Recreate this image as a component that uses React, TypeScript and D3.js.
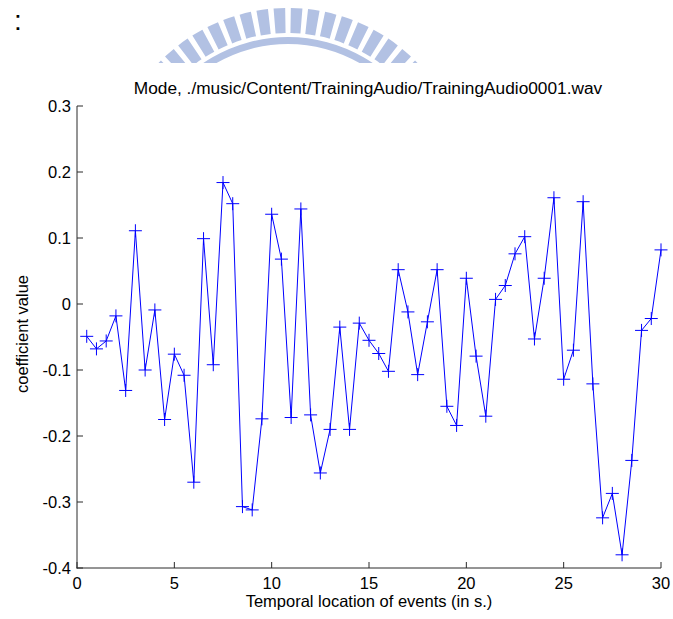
import React from "react";
import * as d3 from "d3";

const times: number[] = [
  0.5, 1, 1.5, 2, 2.5, 3, 3.5, 4, 4.5, 5, 5.5, 6, 6.5, 7, 7.5, 8, 8.5, 9, 9.5, 10,
  10.5, 11, 11.5, 12, 12.5, 13, 13.5, 14, 14.5, 15, 15.5, 16, 16.5, 17, 17.5, 18, 18.5, 19, 19.5, 20,
  20.5, 21, 21.5, 22, 22.5, 23, 23.5, 24, 24.5, 25, 25.5, 26, 26.5, 27, 27.5, 28, 28.5, 29, 29.5, 30,
];
const coefficients: number[] = [
  -0.049, -0.068, -0.056, -0.018, -0.131, 0.111, -0.1, -0.009, -0.175, -0.076,
  -0.108, -0.27, 0.099, -0.092, 0.184, 0.152, -0.307, -0.312, -0.174, 0.136,
  0.068, -0.172, 0.144, -0.168, -0.256, -0.19, -0.035, -0.19, -0.029, -0.055,
  -0.075, -0.102, 0.052, -0.012, -0.107, -0.027, 0.052, -0.155, -0.184, 0.039,
  -0.079, -0.17, 0.007, 0.028, 0.076, 0.102, -0.053, 0.039, 0.161, -0.114,
  -0.07, 0.155, -0.121, -0.324, -0.287, -0.38, -0.237, -0.04, -0.022, 0.082,
];
const xTicks: number[] = [0, 5, 10, 15, 20, 25, 30];
const yTicks: number[] = [0.3, 0.2, 0.1, 0, -0.1, -0.2, -0.3, -0.4];
const titleText = "Mode, ./music/Content/TrainingAudio/TrainingAudio0001.wav";
const xLabel = "Temporal location of events (in s.)";
const yLabel = "coefficient value";

const W = 673;
const H = 619;
const FONT = "Arial, 'Liberation Sans', Helvetica, sans-serif";

export default function App() {
  const x = d3.scaleLinear().domain([0, 30]).range([77, 661]);
  const y = d3.scaleLinear().domain([-0.4, 0.3]).range([568, 106]);
  const pts = times.map((t, i) => [t, coefficients[i]] as [number, number]);
  const line = d3
    .line<[number, number]>()
    .x((d) => x(d[0]))
    .y((d) => y(d[1]));

  // watermark
  const cx = 288;
  const cy = 188;
  const barArc = d3.arc<any>();
  const step = (5.5 * Math.PI) / 180;
  const half = (1.85 * Math.PI) / 180;
  const bars: string[] = [];
  for (let k = -10; k <= 10; k++) {
    const a = (k + 0.5) * step;
    bars.push(
      barArc({ innerRadius: 155, outerRadius: 180, startAngle: a - half, endAngle: a + half }) as string
    );
  }
  const band = barArc({
    innerRadius: 144,
    outerRadius: 151,
    startAngle: -Math.PI / 3,
    endAngle: Math.PI / 3,
  }) as string;

  const axisColor = "#2a2a2a";
  const fs = 16.5;

  return (
    <svg
      width={W}
      height={H}
      style={{ position: "absolute", left: 0, top: 0, background: "#fff" }}
      fontFamily={FONT}
    >
      <defs>
        <clipPath id="wmclip">
          <rect x={0} y={0} width={W} height={63} />
        </clipPath>
      </defs>
      <g clipPath="url(#wmclip)" fill="#b2c1e3">
        <g transform={`translate(${cx},${cy})`}>
          {bars.map((d, i) => (
            <path key={i} d={d} />
          ))}
          <path d={band} />
        </g>
      </g>
      <text x={14} y={30} fontSize={28} fill="#000">
        :
      </text>

      <text x={368} y={94} fontSize={17.3} textAnchor="middle" fill="#000">
        {titleText}
      </text>

      {/* axes */}
      <line x1={77} y1={106} x2={77} y2={568.5} stroke={axisColor} strokeWidth={1} />
      <line x1={76.5} y1={568} x2={661} y2={568} stroke={axisColor} strokeWidth={1} />
      {yTicks.map((t) => (
        <g key={"y" + t}>
          <line x1={77} x2={83} y1={y(t)} y2={y(t)} stroke={axisColor} />
          <text x={71} y={y(t)} dy="0.36em" textAnchor="end" fontSize={fs} fill="#000">
            {String(t)}
          </text>
        </g>
      ))}
      {xTicks.map((t) => (
        <g key={"x" + t}>
          <line x1={x(t)} x2={x(t)} y1={568} y2={562} stroke={axisColor} />
          <text x={x(t)} y={589} textAnchor="middle" fontSize={fs} fill="#000">
            {String(t)}
          </text>
        </g>
      ))}
      <text x={369} y={607} textAnchor="middle" fontSize={fs} fill="#000">
        {xLabel}
      </text>
      <text
        transform={`translate(28,334) rotate(-90)`}
        textAnchor="middle"
        fontSize={fs}
        fill="#000"
      >
        {yLabel}
      </text>

      {/* data */}
      <path d={line(pts) as string} fill="none" stroke="#0000ff" strokeWidth={1} />
      {pts.map((p, i) => (
        <g key={i} stroke="#0000ff" strokeWidth={1}>
          <line x1={x(p[0]) - 6.5} x2={x(p[0]) + 6.5} y1={y(p[1])} y2={y(p[1])} />
          <line x1={x(p[0])} x2={x(p[0])} y1={y(p[1]) - 6.5} y2={y(p[1]) + 6.5} />
        </g>
      ))}
    </svg>
  );
}
